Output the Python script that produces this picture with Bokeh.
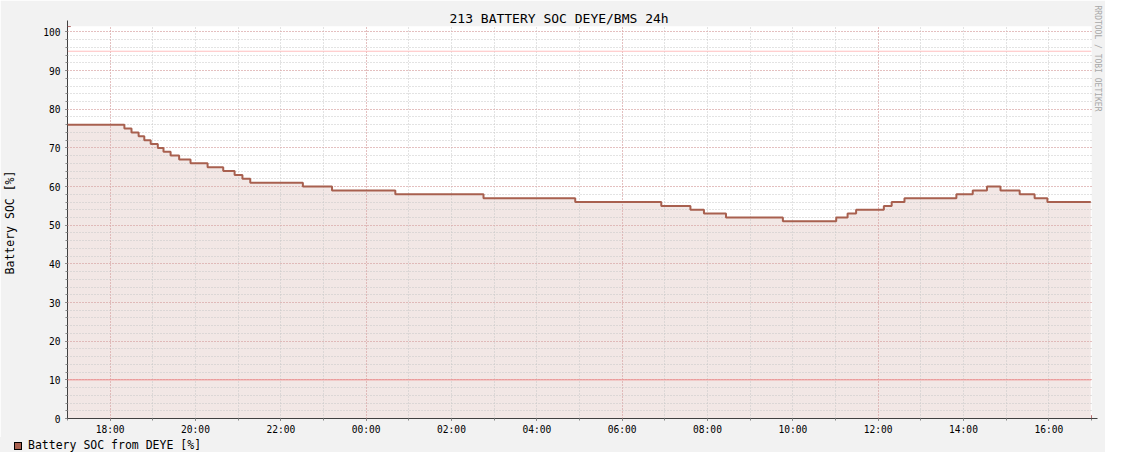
from datetime import datetime, timedelta
from bokeh.plotting import figure
from bokeh.layouts import column
from bokeh.models import (Range1d, SingleIntervalTicker, DatetimeTickFormatter, Span, Title,
                          Arrow, NormalHead, Div)
from bokeh.embed import file_html
from bokeh.resources import INLINE

# ---------------- data ----------------
chart_title = "213 BATTERY SOC DEYE/BMS 24h"
y_label = "Battery SOC [%]"
series_label = "Battery SOC from DEYE [%]"
watermark = "RRDTOOL / TOBI OETIKER"

window_start = "17:00"
window_hours = 24

step_times = ["17:00", "18:20", "18:30", "18:40", "18:48", "18:57", "19:07", "19:15", "19:25",
              "19:37", "19:53", "20:17", "20:39", "20:55", "21:06", "21:17", "22:31", "23:12",
              "00:41", "02:45", "04:54", "06:55", "07:36", "07:55", "08:26", "09:46", "11:01",
              "11:17", "11:29", "12:08", "12:19", "12:37", "13:50", "14:13", "14:33", "14:52",
              "15:19", "15:40", "15:58", "16:59"]
soc_values = [76, 75, 74, 73, 72, 71, 70, 69, 68, 67, 66, 65, 64, 63, 62, 61, 60, 59,
              58, 57, 56, 55, 54, 53, 52, 51, 52, 53, 54, 55, 56, 57, 58, 59, 60, 59,
              58, 57, 56, 56]

hrule_values = [95, 10]
hrule_colors = ["#FFBEBE", "#EE8C8C"]

y_min, y_max = 0, 101.4

# ---------------- styling ----------------
FONT = "DejaVu Sans Mono"
LINE = "#A8604F"
FILL = "#F2E7E5"
BACK = "#F2F2F2"
MGRID = "#E49C9C"
GRID = "#C6C6C6"
AXIS = "#404040"
ARROW = "#8B1A1A"

base = datetime(2024, 1, 1)
sh, sm = map(int, window_start.split(":"))
t0 = base + timedelta(hours=sh, minutes=sm)
t1 = t0 + timedelta(hours=window_hours)


def to_dt(s):
    h, m = map(int, s.split(":"))
    d = base + timedelta(hours=h, minutes=m)
    if d < t0:
        d += timedelta(days=1)
    return d


xs = [to_dt(s) for s in step_times]

W = 1105
H1, H2 = 437, 15
LEFT, TOP, BOTTOM = 67, 26, 16
FRAME_W = 1024
FRAME_H = H1 - TOP - BOTTOM

p = figure(width=W, height=H1, x_axis_type="datetime",
           x_range=Range1d(t0, t1), y_range=Range1d(y_min, y_max),
           output_backend="svg", toolbar_location=None,
           min_border_left=LEFT, min_border_right=W - LEFT - FRAME_W,
           min_border_top=TOP, min_border_bottom=BOTTOM,
           background_fill_color="white", border_fill_color=BACK,
           outline_line_color=None, title=chart_title)

# title
p.title.text_font = FONT
p.title.text_font_size = "13px"
p.title.text_font_style = "normal"
p.title.text_color = "black"
p.title.align = "left"
p.title.offset = 382
p.title.standoff = 1

# watermark
wm = Title(text=watermark, align="left", text_font=FONT, text_font_size="8px",
           text_font_style="normal", text_color="#A8A8A8", offset=-21, standoff=3)
p.add_layout(wm, "right")

# area + line
area = p.varea_step(x=xs, y1=[y_min] * len(xs), y2=soc_values, step_mode="after",
                    fill_color=FILL)
line = p.step(x=xs, y=soc_values, mode="after", line_color=LINE, line_width=2)
line.level = "annotation"

# rules
for v, c in zip(hrule_values, hrule_colors):
    p.add_layout(Span(location=v, dimension="width", line_color=c, line_width=1))

# grids
HOUR = 3600 * 1000
p.xgrid.ticker = SingleIntervalTicker(interval=6 * HOUR, num_minor_ticks=6)
p.ygrid.ticker = SingleIntervalTicker(interval=10, num_minor_ticks=5)
for g in (p.xgrid, p.ygrid):
    g.grid_line_color = MGRID
    g.grid_line_dash = "1 2"
    g.minor_grid_line_color = GRID
    g.minor_grid_line_dash = "1 2"
    g.level = "guide"

# axes
p.xaxis.ticker = SingleIntervalTicker(interval=2 * HOUR, num_minor_ticks=2)
p.xaxis.formatter = DatetimeTickFormatter(hours="%H:%M", hourmin="%H:%M", days="%H:%M",
                                          minutes="%H:%M", minsec="%H:%M",
                                          strip_leading_zeros=False)
p.yaxis.ticker = SingleIntervalTicker(interval=10, num_minor_ticks=5)
for ax in (p.xaxis[0], p.yaxis[0]):
    ax.axis_line_color = AXIS
    ax.major_tick_line_color = AXIS
    ax.minor_tick_line_color = "#888888"
    ax.major_tick_in = 0
    ax.minor_tick_in = 0
    ax.major_tick_out = 2
    ax.minor_tick_out = 2
    ax.major_label_text_font = FONT
    ax.major_label_text_font_size = "9.6px"
    ax.major_label_text_color = "black"
p.xaxis.major_label_standoff = 3
p.yaxis.major_label_standoff = 5

p.yaxis.axis_label = y_label
p.yaxis.axis_label_text_font = FONT
p.yaxis.axis_label_text_font_size = "11.5px"
p.yaxis.axis_label_text_font_style = "normal"
p.yaxis.axis_label_text_color = "black"
p.yaxis.axis_label_standoff = 23

# axis arrows
def ms(d):
    return (d - datetime(1970, 1, 1)).total_seconds() * 1000

px_y = (y_max - y_min) / FRAME_H
px_x = (ms(t1) - ms(t0)) / FRAME_W
p.add_layout(Arrow(x_start=ms(t0), y_start=y_min, x_end=ms(t0), y_end=y_max + 6 * px_y,
                   line_color=AXIS, line_width=1,
                   end=NormalHead(size=6, fill_color=ARROW, line_color=ARROW)))
p.add_layout(Arrow(x_start=ms(t0), y_start=y_min, x_end=ms(t1) + 6 * px_x, y_end=y_min,
                   line_color=AXIS, line_width=1,
                   end=NormalHead(size=6, fill_color=ARROW, line_color=ARROW)))

# legend strip below the chart
legend_html = (
    f'<div style="padding-left:14px;font-family:\'{FONT}\';font-size:11.5px;'
    f'line-height:15px;color:#000;white-space:nowrap;">'
    f'<span style="display:inline-block;width:8px;height:8px;background:{LINE};'
    f'border:1px solid #000;margin-right:6px;vertical-align:-1px;"></span>'
    f'{series_label}</div>'
)
legend_div = Div(text=legend_html, width=W, height=H2,
                 styles={"background-color": BACK, "margin": "0", "padding": "0"})

layout = column(p, legend_div, spacing=0)
open("out.html", "w").write(file_html(layout, INLINE))
